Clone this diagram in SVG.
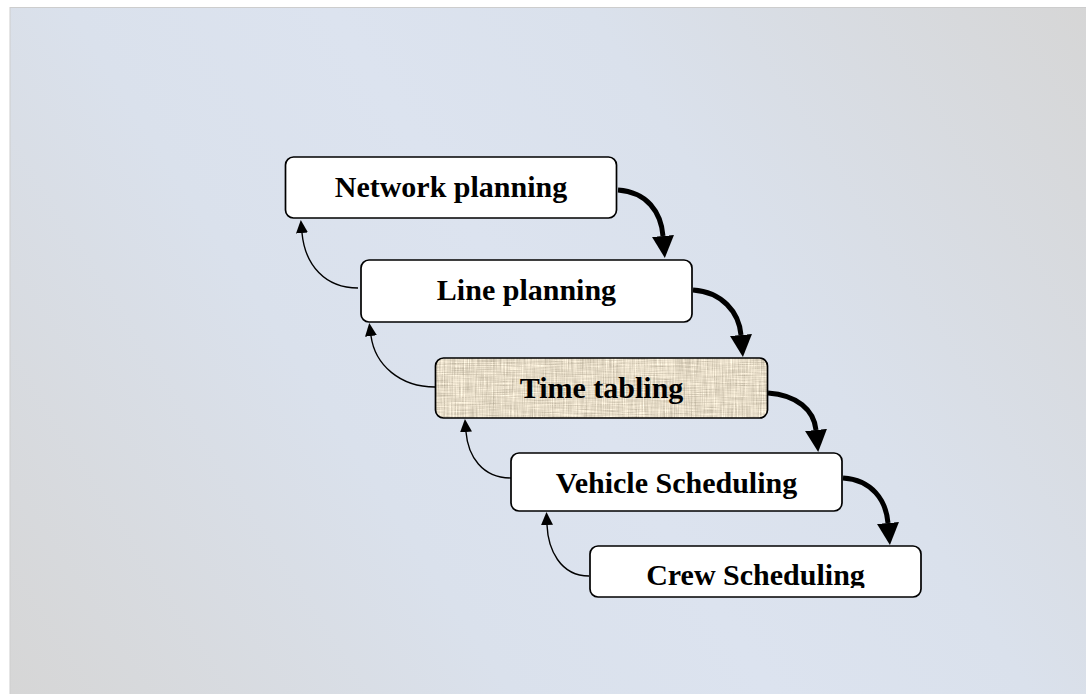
<svg xmlns="http://www.w3.org/2000/svg" width="1086" height="694" viewBox="0 0 1086 694">
<defs>
<linearGradient id="bg" gradientUnits="userSpaceOnUse" x1="1086" y1="0" x2="10" y2="694">
<stop offset="0" stop-color="#d6d6d6"/>
<stop offset="0.33" stop-color="#dae1ec"/>
<stop offset="0.5" stop-color="#dce3ef"/>
<stop offset="0.67" stop-color="#dae1ec"/>
<stop offset="1" stop-color="#d6d6d6"/>
</linearGradient>
<filter id="linen" x="0" y="0" width="1" height="1" color-interpolation-filters="sRGB">
<feTurbulence type="fractalNoise" baseFrequency="0.9 0.04" numOctaves="2" seed="3" result="n1"/>
<feTurbulence type="fractalNoise" baseFrequency="0.04 0.9" numOctaves="2" seed="7" result="n2"/>
<feComposite in="n1" in2="n2" operator="arithmetic" k2="0.5" k3="0.5" result="n"/>
<feColorMatrix in="n" type="matrix" values="0.55 0 0 0 0.62  0.55 0 0 0 0.58  0.55 0 0 0 0.50  0 0 0 0 1"/>
</filter>
<clipPath id="ttclip"><rect x="435.5" y="358" width="332" height="60" rx="8"/></clipPath>
<marker id="thick" markerUnits="userSpaceOnUse" markerWidth="22" markerHeight="22" viewBox="0 0 22 22" refX="0" refY="11" orient="auto">
<path d="M0,0 L22,11 L0,22 z" fill="#000"/>
</marker>
<marker id="thin" markerUnits="userSpaceOnUse" markerWidth="13" markerHeight="12" viewBox="0 0 13 12" refX="0" refY="6" orient="auto">
<path d="M0,0 L13,6 L0,12 z" fill="#000"/>
</marker>
<clipPath id="crewclip"><rect x="590" y="546" width="332" height="42"/></clipPath>
<style>
.box{fill:#fff;stroke:#000;stroke-width:1.7}
.lbl{font-family:"Liberation Serif","Times New Roman",serif;font-weight:bold;font-size:30px;fill:#000;text-anchor:middle}
.fw{fill:none;stroke:#000;stroke-width:5;marker-end:url(#thick)}
.bk{fill:none;stroke:#000;stroke-width:1.4;marker-end:url(#thin)}
</style>
</defs>
<rect x="0" y="0" width="1086" height="694" fill="#fff"/>
<rect x="10" y="7.5" width="1077" height="688" fill="url(#bg)" stroke="#cdcdcd" stroke-width="1"/>
<g id="connectors">
<path class="fw" d="M618 190 C647 192 661 212 663 236"/>
<path class="fw" d="M693 290 C722 292 739 312 741 335"/>
<path class="fw" d="M768 393 C797 395 814 410 816 430"/>
<path class="fw" d="M843 478 C872 480 886 500 888 523"/>
<path class="bk" d="M358 288 C325 288 305 265 302 233"/>
<path class="bk" d="M435 387 C400 387 375 365 371 336"/>
<path class="bk" d="M511 478 C482 478 468 456 466 432"/>
<path class="bk" d="M589 576 C560 576 548 549 547 525"/>
</g>
<g id="network-planning">
<rect class="box" x="285.5" y="157" width="331" height="61" rx="8"/>
<text class="lbl" x="451" y="197">Network planning</text>
</g>
<g id="line-planning">
<rect class="box" x="361" y="260" width="331" height="62" rx="8"/>
<text class="lbl" x="526.5" y="300">Line planning</text>
</g>
<g id="time-tabling">
<g clip-path="url(#ttclip)"><rect x="435.5" y="358" width="332" height="60" fill="#e0d8c6" filter="url(#linen)"/></g>
<rect x="435.5" y="358" width="332" height="60" rx="8" fill="none" stroke="#000" stroke-width="1.7"/>
<text class="lbl" x="601.5" y="398">Time tabling</text>
</g>
<g id="vehicle-scheduling">
<rect class="box" x="511" y="453" width="331" height="58" rx="8"/>
<text class="lbl" x="676.5" y="493">Vehicle Scheduling</text>
</g>
<g id="crew-scheduling">
<rect class="box" x="590" y="546" width="331" height="51" rx="8"/>
<text class="lbl" x="755.5" y="585" clip-path="url(#crewclip)">Crew Scheduling</text>
</g>
</svg>
